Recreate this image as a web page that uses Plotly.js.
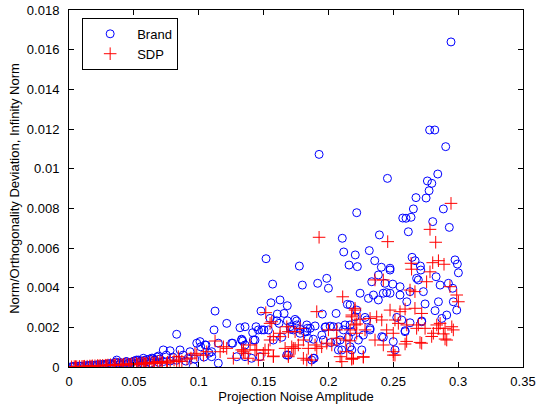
<!DOCTYPE html>
<html>
<head>
<meta charset="utf-8">
<script src="https://cdn.plot.ly/plotly-3.0.1.min.js"></script>
<style>html,body{margin:0;padding:0;background:#fff;}#chart{width:544px;height:405px;}</style>
</head>
<body>
<div id="chart"></div>
<script>
// Brand series (x: projection noise amplitude, y: deviation)
const brandX = [
0.002,0.004,0.006,0.008,0.010,0.012,0.014,0.016,0.018,0.020,0.022,0.024,0.026,0.028,0.030,0.032,0.034,0.036,0.038,0.040,
0.042,0.044,0.046,0.048,0.050,0.052,0.054,0.056,0.058,0.060,0.062,0.064,0.066,0.068,0.070,0.075,0.080,0.088,0.090,0.097,0.104,0.108,
0.0368,0.0445,0.0534,0.0598,0.0650,0.003,0.009,0.015,0.021,0.027,0.033,0.039,0.045,0.051,0.057,0.063,0.069,0.073,0.078,0.083,0.092,
0.2945,0.2780,0.2820,0.1928,0.2904,0.2455,0.2843,0.2763,0.2797,0.2776,0.2675,0.2753,0.2218,0.2655,0.2886,0.2573,0.2598,0.2637,
0.2804,0.2932,0.2616,0.2393,0.2107,0.1519,0.1776,0.2118,0.2207,0.2315,0.2357,0.2159,0.2223,0.2408,0.2475,0.2645,0.2668,0.2709,
0.2976,0.2994,0.1570,0.1799,0.1917,0.1987,0.2000,0.1557,0.1627,0.1683,0.1126,0.1480,0.1606,0.1658,0.1953,0.2059,0.1216,0.1118,
0.1318,0.1619,0.1683,0.1755,0.1442,0.1486,0.1537,0.1416,0.1838,0.1897,0.1979,0.2038,0.1833,0.1709,0.1781,0.1262,0.1339,0.1421,
0.1049,0.1010,0.1884,0.1961,0.2018,0.1691,0.1884,0.1151,0.1100,0.1293,0.0830,0.0727,0.0779,0.0856,0.0985,0.1015,0.1056,0.1151,
0.1254,0.1331,0.1357,0.0689,0.0933,0.1100,0.0573,0.0958,0.2146,0.2205,0.2167,0.1357,0.1460,0.1503,0.1550,0.1601,0.1743,0.1756,
0.1704,0.1730,0.1833,0.1859,0.1820,0.1974,0.2013,0.2077,0.2115,0.2128,0.1331,0.1434,0.1575,0.1640,0.1781,0.1845,0.1949,0.2064,
0.2154,0.2231,0.2167,0.2103,0.1871,0.1890,0.1679,0.1473,0.1357,0.1408,0.2475,0.2385,0.2334,0.2436,0.2496,0.2552,0.2712,0.2680,
0.2693,0.2830,0.2861,0.2925,0.2958,0.3002,0.2244,0.2308,0.2347,0.2385,0.2423,0.2449,0.2475,0.2552,0.2629,0.2732,0.2604,0.2745,
0.2848,0.2963,0.2989,0.2912,0.2874,0.2822,0.2167,0.2218,0.2282,0.2295,0.2527,0.2565,0.2629,0.2719,0.2591,0.2321,0.2269,0.2423,
0.2500,0.2180,0.2257,0.2513,0.2411,0.2090,0.2180,0.2077,0.2321,0.2591,0.2719
];
const brandY = [
0.00002,0.00003,0.00004,0.00005,0.00004,0.00006,0.00008,0.00007,0.00010,0.00009,0.00012,0.00011,0.00014,0.00013,0.00016,0.00018,0.00015,0.00025,0.00020,0.00022,
0.00018,0.00027,0.00020,0.00024,0.00030,0.00035,0.00028,0.00030,0.00033,0.00026,0.00040,0.00045,0.00035,0.00050,0.00040,0.00060,0.00050,0.00060,0.00030,0.00040,0.00050,0.00070,
0.00035,0.00027,0.00035,0.00037,0.00042,0.00001,0.00003,0.00005,0.00006,0.00008,0.00010,0.00012,0.00014,0.00016,0.00018,0.00020,0.00024,0.00028,0.00030,0.00034,0.00045,
0.01639,0.01195,0.01195,0.01072,0.01111,0.00951,0.00973,0.00938,0.00926,0.00889,0.00854,0.00852,0.00778,0.00797,0.00797,0.00751,0.00750,0.00755,
0.00733,0.00704,0.00682,0.00666,0.00649,0.00546,0.00509,0.00580,0.00565,0.00587,0.00536,0.00514,0.00506,0.00503,0.00498,0.00553,0.00536,0.00509,
0.00540,0.00519,0.00418,0.00413,0.00422,0.00447,0.00397,0.00324,0.00338,0.00309,0.00282,0.00282,0.00267,0.00270,0.00267,0.00270,0.00220,0.00187,
0.00198,0.00220,0.00233,0.00232,0.00203,0.00187,0.00187,0.00173,0.00195,0.00207,0.00203,0.00203,0.00178,0.00190,0.00190,0.00120,0.00131,0.00136,
0.00111,0.00128,0.00140,0.00136,0.00123,0.00060,0.00044,0.00019,0.00052,0.00052,0.00165,0.00086,0.00082,0.00086,0.00120,0.00102,0.00111,0.00120,
0.00120,0.00136,0.00111,0.00055,0.00077,0.00077,0.00044,0.00002,0.00316,0.00253,0.00212,0.00203,0.00187,0.00187,0.00245,0.00233,0.00240,0.00212,
0.00203,0.00187,0.00212,0.00195,0.00178,0.00200,0.00206,0.00203,0.00187,0.00212,0.00140,0.00136,0.00136,0.00150,0.00170,0.00145,0.00161,0.00128,
0.00150,0.00136,0.00102,0.00086,0.00035,0.00044,0.00060,0.00052,0.00052,0.00044,0.00489,0.00464,0.00430,0.00422,0.00418,0.00405,0.00489,0.00447,
0.00439,0.00455,0.00413,0.00422,0.00397,0.00475,0.00372,0.00346,0.00363,0.00338,0.00372,0.00375,0.00372,0.00363,0.00380,0.00380,0.00329,0.00318,
0.00329,0.00329,0.00287,0.00262,0.00245,0.00284,0.00313,0.00287,0.00250,0.00237,0.00250,0.00237,0.00223,0.00228,0.00183,0.00187,0.00161,0.00150,
0.00128,0.00086,0.00086,0.00086,0.00153,0.00136,0.00178,0.00086,0.00195,0.00178,0.00232
];
// SDP series
const sdpX = [
0.002,0.004,0.006,0.008,0.010,0.012,0.014,0.016,0.018,0.020,0.022,0.024,0.026,0.028,0.030,0.032,0.034,0.036,0.038,0.040,
0.042,0.044,0.046,0.048,0.050,0.052,0.054,0.056,0.058,0.060,0.062,0.064,0.066,0.068,0.070,0.072,0.078,0.081,0.087,0.091,0.094,
0.005,0.011,0.017,0.023,0.029,0.035,0.041,0.047,0.053,0.059,0.065,0.071,0.076,0.085,
0.1928,0.2457,0.2945,0.2783,0.2827,0.2637,0.2804,0.2848,0.2891,0.1517,0.1910,0.1550,0.1126,0.1190,0.1396,0.1511,0.1550,0.1691,
0.1743,0.1627,0.1807,0.1729,0.1768,0.1344,0.1447,0.1575,0.1691,0.1833,0.1987,0.2064,0.1267,0.1165,0.1062,0.1910,0.1216,0.0971,
0.1036,0.0843,0.1344,0.0985,0.0830,0.0753,0.0573,0.2110,0.2205,0.1563,0.2180,0.2218,0.1627,0.1679,0.1781,0.1576,0.2000,0.2064,
0.2218,0.2134,0.2167,0.1897,0.1948,0.2026,0.1845,0.1743,0.1717,0.1666,0.1331,0.1357,0.1434,0.1498,0.1537,0.1576,0.1691,0.1807,
0.1871,0.2090,0.2193,0.2141,0.1382,0.1460,0.2783,0.2641,0.2757,0.2423,0.2359,0.2629,0.2667,0.2937,0.2989,0.3002,0.2667,0.2591,
0.2552,0.2475,0.2719,0.2205,0.2180,0.2244,0.2321,0.2372,0.2411,0.2513,0.2539,0.2604,0.2693,0.2680,0.2745,0.2835,0.2861,0.2848,
0.2899,0.2951,0.2963,0.2809,0.2886,0.2912,0.2205,0.2167,0.2282,0.2449,0.2500,0.2359,0.2423,0.2591,0.2719,0.2500,0.2513,0.2269,
0.2180,0.2103,0.2180,0.2269,0.2500,0.2603,0.2706,0.2899,0.2796
];
const sdpY = [
0.00001,0.00002,0.00002,0.00003,0.00003,0.00004,0.00004,0.00005,0.00006,0.00006,0.00007,0.00008,0.00008,0.00009,0.00010,0.00011,0.00010,0.00012,0.00013,0.00012,
0.00014,0.00015,0.00013,0.00016,0.00017,0.00018,0.00016,0.00019,0.00020,0.00018,0.00022,0.00024,0.00020,0.00026,0.00028,0.00025,0.00030,0.00035,0.00030,0.00040,0.00045,
0.00002,0.00003,0.00004,0.00005,0.00007,0.00008,0.00009,0.00011,0.00012,0.00015,0.00017,0.00020,0.00024,0.00028,
0.00654,0.00632,0.00825,0.00694,0.00629,0.00523,0.00526,0.00536,0.00518,0.00274,0.00279,0.00220,0.00131,0.00102,0.00111,0.00086,0.00136,0.00178,
0.00178,0.00153,0.00136,0.00094,0.00111,0.00077,0.00086,0.00052,0.00052,0.00035,0.00120,0.00145,0.00044,0.00077,0.00077,0.00094,0.00094,0.00069,
0.00060,0.00052,0.00086,0.00060,0.00027,0.00019,0.00019,0.00354,0.00296,0.00228,0.00253,0.00217,0.00170,0.00203,0.00195,0.00153,0.00187,0.00187,
0.00170,0.00136,0.00132,0.00111,0.00102,0.00111,0.00094,0.00094,0.00102,0.00094,0.00086,0.00069,0.00086,0.00069,0.00086,0.00055,0.00060,0.00044,
0.00035,0.00052,0.00044,0.00077,0.00044,0.00035,0.00480,0.00493,0.00430,0.00439,0.00439,0.00388,0.00380,0.00405,0.00363,0.00329,0.00296,0.00292,
0.00279,0.00287,0.00270,0.00287,0.00262,0.00241,0.00245,0.00253,0.00237,0.00237,0.00220,0.00212,0.00212,0.00195,0.00195,0.00212,0.00220,0.00195,
0.00195,0.00203,0.00187,0.00170,0.00167,0.00136,0.00212,0.00187,0.00187,0.00187,0.00170,0.00136,0.00111,0.00116,0.00120,0.00077,0.00060,0.00052,
0.00044,0.00027,0.00039,0.00049,0.00060,0.00129,0.00124,0.00141,0.00154
];
const seriesNames = ['Brand', 'SDP'];
const xTicks = [0, 0.05, 0.1, 0.15, 0.2, 0.25, 0.3, 0.35];
const xTickText = ['0', '0.05', '0.1', '0.15', '0.2', '0.25', '0.3', '0.35'];
const yTicks = [0, 0.002, 0.004, 0.006, 0.008, 0.01, 0.012, 0.014, 0.016, 0.018];
const yTickText = ['0', '0.002', '0.004', '0.006', '0.008', '0.01', '0.012', '0.014', '0.016', '0.018'];

const font = 'Liberation Sans, Arial, Helvetica, sans-serif';
const traces = [
  {x: brandX, y: brandY, name: seriesNames[0], type: 'scatter', mode: 'markers',
   marker: {symbol: 'circle-open', size: 8, color: '#0000ff', line: {width: 1, color: '#0000ff'}}},
  {x: sdpX, y: sdpY, name: seriesNames[1], type: 'scatter', mode: 'markers',
   marker: {symbol: 'cross-thin-open', size: 9, color: '#ff0000', line: {width: 1, color: '#ff0000'}}}
];
const axisBase = {showgrid: false, zeroline: false, showline: true, linecolor: '#000', linewidth: 1,
  mirror: 'ticks', ticks: 'inside', ticklen: 5, tickcolor: '#000', tickfont: {family: font, size: 13, color: '#000'}};
const layout = {
  width: 544, height: 405,
  margin: {l: 69, r: 21, t: 10, b: 38},
  paper_bgcolor: '#fff', plot_bgcolor: '#fff',
  font: {family: font, size: 13, color: '#000'},
  showlegend: true,
  legend: {x: 0.029, y: 0.978, xanchor: 'left', yanchor: 'top', bgcolor: '#fff', bordercolor: '#000', borderwidth: 1,
    itemwidth: 44, tracegroupgap: 0,
    font: {family: font, size: 13, color: '#000'}},
  xaxis: Object.assign({}, axisBase, {range: [0, 0.35], tickvals: xTicks, ticktext: xTickText, ticklabelstandoff: 2,
    title: {text: 'Projection Noise Amplitude', font: {family: font, size: 13, color: '#000'}, standoff: 2}}),
  yaxis: Object.assign({}, axisBase, {range: [0, 0.018], tickvals: yTicks, ticktext: yTickText, ticklabelstandoff: 6,
    title: {text: 'Norm/Orthogonality Deviation, Infinity Norm', font: {family: font, size: 13, color: '#000'}, standoff: 4}})
};
Plotly.newPlot('chart', traces, layout, {displayModeBar: false, staticPlot: true});
</script>
</body>
</html>
